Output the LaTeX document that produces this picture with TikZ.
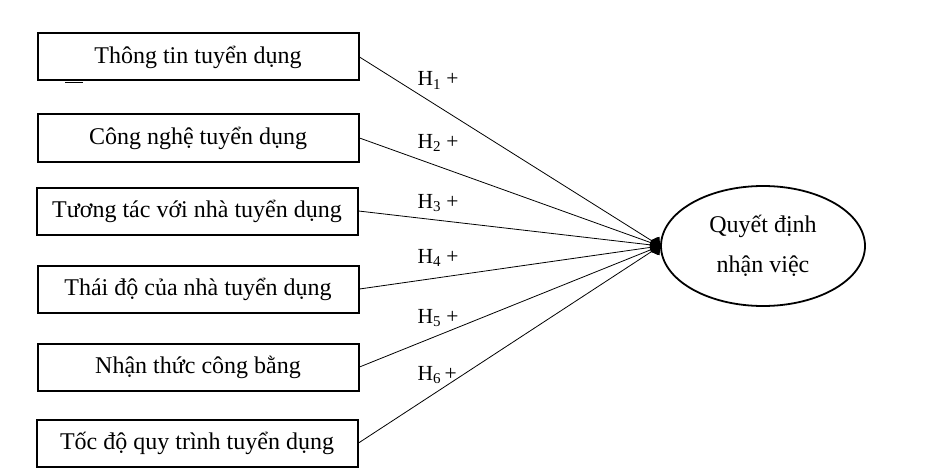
\documentclass[tikz,border=0pt]{standalone}
\usepackage{fontspec}
\setmainfont{Liberation Serif}
\usetikzlibrary{arrows.meta,shapes.geometric}

\begin{document}
\begin{tikzpicture}[x=1pt,y=-1pt,every node/.style={font=\fontsize{24}{40}\selectfont},
  factor/.style={draw,line width=2pt,minimum width=321pt,minimum height=47pt,inner sep=0pt},
  hyp/.style={anchor=base west,font=\fontsize{21.5}{24}\selectfont},
  link/.style={line width=.8pt,-{Diamond[length=11pt,width=15pt]}}]
\useasboundingbox (0,0) rectangle (928,476);
\node[factor] (f1) at (198,57) {Thông tin tuyển dụng};
\node[factor] (f2) at (198,138) {Công nghệ tuyển dụng};
\node[factor] (f3) at (197,211) {Tương tác với nhà tuyển dụng};
\node[factor] (f4) at (198,289) {Thái độ của nhà tuyển dụng};
\node[factor] (f5) at (198,367) {Nhận thức công bằng};
\node[factor] (f6) at (197,443) {Tốc độ quy trình tuyển dụng};
\node[draw,ellipse,line width=1.8pt,minimum width=204pt,minimum height=120pt,align=center] (qd) at (763,246) {Quyết định\\nhận việc};
\draw[link] (f1.east)--(qd.west);
\draw[link] (f2.east)--(qd.west);
\draw[link] (f3.east)--(qd.west);
\draw[link] (f4.east)--(qd.west);
\draw[link] (f5.east)--(qd.west);
\draw[link] (f6.east)--(qd.west);
\node[hyp] (h1) at (414,86) {H\textsubscript{1} +};
\node[hyp] (h2) at (414,148) {H\textsubscript{2} +};
\node[hyp] (h3) at (414,208) {H\textsubscript{3} +};
\node[hyp] (h4) at (414,263) {H\textsubscript{4} +};
\node[hyp] (h5) at (414,323) {H\textsubscript{5} +};
\node[hyp] (h6) at (414,380) {H\textsubscript{6}\,+};
\draw[line width=1.5pt] (65,82.5)--(83,82.5);
\end{tikzpicture}
\end{document}
